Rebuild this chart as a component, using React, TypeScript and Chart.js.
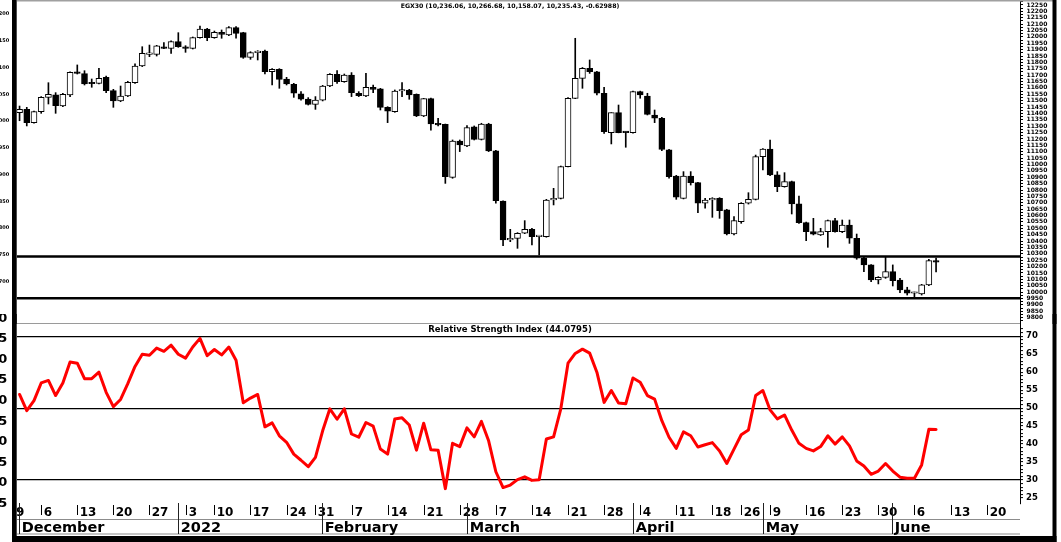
import React, { useEffect, useRef } from 'react';
import { Chart, registerables } from 'chart.js';

Chart.register(...registerables);

// ---------- data (one entry per trading day, index 0 = 1 Dec 2021) ----------
const opens = [11406,11432,11328,11414,11526,11545,11458,11545,11722,11712,
11636,11636,11683,11579,11498,11537,11641,11772,11863,11863,
11923,11910,11963,11923,11910,11994,12062,11994,12036,12015,
12072,12033,11840,11876,11889,11727,11746,11670,11628,11553,
11513,11471,11505,11615,11707,11649,11701,11558,11537,11605,
11592,11448,11414,11576,11584,11550,11380,11516,11317,11315,
10899,11184,11145,11296,11197,11317,11108,10714,10408,10421,
10461,10492,10435,10435,10722,10735,10983,11518,11675,11754,
11727,11558,11250,11406,11252,11250,11571,11537,11388,11362,
11114,10910,10735,10910,10858,10696,10722,10735,10644,10455,
10552,10696,10727,11061,11121,10918,10826,10866,10691,10544,
10474,10448,10474,10560,10474,10526,10422,10265,10213,10095,
10116,10160,10095,10017,9991,9985,10056,10236.06];

const highs = [11458,11448,11419,11532,11641,11563,11558,11727,11780,11735,
11670,11754,11693,11589,11615,11652,11788,11923,11936,11934,
11955,11970,12033,11931,11999,12085,12067,12046,12054,12080,
12080,12036,11884,11892,11897,11751,11751,11683,11636,11571,
11524,11532,11620,11712,11735,11709,11720,11571,11714,11623,
11597,11453,11584,11641,11589,11553,11518,11521,11362,11317,
11192,11192,11304,11302,11323,11323,11110,10716,10492,10466,
10560,10500,10440,10727,10813,10988,11525,11989,11760,11819,
11730,11605,11406,11466,11255,11575,11575,11558,11427,11370,
11119,10915,10944,10944,10860,10735,10740,10740,10649,10591,
10701,10779,11074,11125,11192,10944,10936,10870,10753,10549,
10578,10500,10565,10578,10565,10565,10455,10278,10215,10121,
10273,10213,10108,10038,10000,10061,10257,10266.68];

const lows = [11343,11302,11323,11401,11474,11401,11453,11532,11709,11623,
11605,11631,11563,11448,11492,11532,11636,11767,11845,11850,
11908,11871,11918,11879,11905,11989,11970,11989,11989,12010,
11989,11832,11824,11819,11709,11623,11597,11623,11526,11505,
11466,11432,11498,11610,11636,11644,11532,11532,11532,11563,
11427,11328,11409,11532,11511,11375,11375,11268,11302,10852,
10892,11101,11140,11192,11192,11101,10696,10364,10395,10343,
10458,10369,10291,10430,10683,10730,10980,11516,11597,11714,
11545,11244,11161,11248,11135,11245,11519,11388,11328,11108,
10892,10727,10730,10839,10623,10657,10586,10578,10448,10448,
10539,10690,10722,10957,10912,10787,10822,10612,10539,10403,
10448,10443,10351,10469,10466,10382,10257,10160,10082,10064,
10108,10048,9996,9977,9959,9977,10051,10158.07];

const closes = [11432,11328,11414,11526,11550,11461,11550,11722,11714,11631,
11633,11675,11579,11498,11537,11644,11772,11871,11868,11929,
11910,11963,11923,11910,11994,12062,11994,12036,12020,12072,
12028,11840,11876,11889,11727,11746,11667,11631,11558,11511,
11471,11505,11615,11707,11649,11701,11563,11539,11605,11589,
11448,11418,11576,11584,11545,11380,11516,11317,11310,10905,
11184,11153,11289,11197,11317,11106,10717,10408,10421,10461,
10492,10435,10437,10722,10735,10983,11518,11675,11754,11727,
11558,11257,11406,11250,11250,11571,11545,11393,11362,11119,
10905,10743,10910,10858,10696,10722,10735,10638,10455,10560,
10696,10727,11061,11121,10918,10826,10866,10691,10544,10474,
10453,10474,10560,10474,10526,10422,10265,10213,10095,10116,
10160,10090,10017,9991,9996,10056,10247,10235.43];

const rsiValues = [53.8,49.3,52.1,57.0,57.7,53.5,57.0,62.8,62.5,58.2,
58.2,60.0,54.4,50.4,52.4,56.8,61.6,65.0,64.7,66.7,
65.8,67.5,65.0,63.9,67.0,69.4,64.6,66.3,64.8,67.0,
63.3,51.5,52.8,53.8,44.8,45.9,42.3,40.5,37.2,35.5,
33.7,36.3,43.7,49.8,46.9,49.8,42.8,41.9,46.0,45.0,
38.6,37.2,47.0,47.3,45.3,38.3,45.8,38.4,38.3,27.6,
40.2,39.3,44.5,42.0,46.3,40.9,32.3,27.9,28.6,30.1,
30.9,29.9,30.1,41.4,42.0,49.8,62.5,65.2,66.4,65.3,
60.0,51.6,54.9,51.4,51.2,58.4,57.2,53.5,52.5,46.5,
41.9,38.8,43.4,42.3,39.2,39.8,40.4,38.1,34.6,38.6,
42.6,43.9,53.5,54.9,49.5,47.0,48.1,43.9,40.2,38.8,
38.1,39.3,42.3,40.0,42.0,39.5,35.3,33.9,31.6,32.5,
34.6,32.5,30.8,30.5,30.5,34.2,44.1,44.0795];

const priceChange = '-0.62988';
const supportLevels = [10278, 9952];
const rsiLevels = [30, 50, 70];

const dayTickIdx = [-2,3,8,13,18,23,27,32,37,41,46,51,56,61,66,71,76,81,86,91,96,100,104,109,114,119,124,129,134];
const dayTickLabels = ['29','6','13','20','27','3','10','17','24','31','7','14','21','28','7','14','21','28','4','11','18','26','9','16','23','30','6','13','20'];
const monthStartIdx = [0,22,42,62,85,103,121];
const monthLabels = ['December','2022','February','March','April','May','June'];

const priceTicks: number[] = [];
for (let v = 9775; v <= 12275; v += 25) priceTicks.push(v);
const leftPriceTicks = [10700,10750,10800,10850,10900,10950,11000,11050,11100,11150,11200];
const rsiTicks: number[] = [];
for (let v = 25; v <= 72; v += 1) rsiTicks.push(v);
const rsiLeftTicks = [35,40,45,50,55,60,65,70,75,80];

// ---------- layout ----------
const W = 1061;
const TOP_H = 324;
const BOT_TOP = 314;
const BOT_H = 542 - BOT_TOP;
const X_MIN = -0.3534;
const X_MAX = 138.63;
const FAM = "'DejaVu Sans', sans-serif";
const CFONT = '"DejaVu Sans"';

const fmt = (v: number) => v.toLocaleString('en-US', { minimumFractionDigits: 2, maximumFractionDigits: 2 });
const last = opens.length - 1;
const priceTitle = `EGX30 (${fmt(opens[last])}, ${fmt(highs[last])}, ${fmt(lows[last])}, ${fmt(closes[last])}, ${priceChange})`;
const rsiTitle = `Relative Strength Index (${rsiValues[last].toFixed(4)})`;

const noPad = (s: any) => {
  s.paddingTop = 0;
  s.paddingBottom = 0;
  s.paddingLeft = 0;
  s.paddingRight = 0;
};

function makeTopConfig(): any {
  const bodies = opens.map((o, i) => ({ x: i, y: [o, closes[i]] }));
  const wicks = opens.map((_, i) => ({ x: i, y: [lows[i], highs[i]] }));
  const levelSets = supportLevels.map((lv) => ({
    type: 'line',
    data: [{ x: X_MIN - 2, y: lv }, { x: X_MAX + 2, y: lv }],
    xAxisID: 'x', yAxisID: 'y',
    borderColor: '#000', borderWidth: 2.5, pointRadius: 0, tension: 0,
  }));
  const framePlugin = {
    id: 'frameTop',
    afterDraw(chart: any) {
      const { ctx } = chart;
      ctx.save();
      ctx.fillStyle = '#a0a0a0';
      ctx.fillRect(17, 0, 1036, 1.5);
      ctx.fillStyle = '#9a9a9a';
      ctx.fillRect(17, 323, 1003, 1);
      ctx.fillStyle = '#000';
      ctx.fillRect(12, 0, 4.7, TOP_H);
      ctx.fillRect(1052.5, 0, 4, TOP_H);
      ctx.font = `bold 6.2px ${CFONT}`;
      ctx.textAlign = 'center';
      ctx.textBaseline = 'middle';
      ctx.fillText(priceTitle, 510, 6);
      ctx.restore();
    },
  };
  return {
    type: 'bar',
    data: {
      datasets: [
        {
          type: 'bar', data: bodies, xAxisID: 'x', yAxisID: 'y',
          barThickness: 6, grouped: false, borderSkipped: false, minBarLength: 1.5,
          backgroundColor: (c: any) => (closes[c.dataIndex] >= opens[c.dataIndex] ? '#ffffff' : '#000000'),
          borderColor: '#000', borderWidth: 1,
        },
        {
          type: 'bar', data: wicks, xAxisID: 'x', yAxisID: 'y',
          barThickness: 1, grouped: false, backgroundColor: '#000', borderWidth: 0,
        },
        ...levelSets,
      ],
    },
    options: {
      responsive: false, maintainAspectRatio: false, animation: false, devicePixelRatio: 1,
      events: [],
      layout: { padding: 0, autoPadding: false },
      plugins: { legend: { display: false }, tooltip: { enabled: false }, title: { display: false } },
      scales: {
        x: { type: 'linear', min: X_MIN, max: X_MAX, display: false, offset: false, afterFit: noPad },
        y: {
          type: 'linear', position: 'right', min: 9750, max: 12289,
          afterBuildTicks: (s: any) => { s.ticks = priceTicks.map((v) => ({ value: v })); },
          afterFit: (s: any) => { s.width = W - 1020; noPad(s); },
          ticks: {
            autoSkip: false, padding: 3.5, color: '#000',
            font: { family: FAM, size: 6, weight: 'bold' },
            callback: (v: number) => (v % 50 === 0 && v >= 9800 && v <= 12250 ? String(v) : ''),
          },
          grid: { drawOnChartArea: false, drawTicks: true, tickLength: 3, tickColor: '#000', color: '#000', tickWidth: 1 },
          border: { display: true, color: '#000', width: 1 },
        },
        yl: {
          type: 'linear', position: 'left', min: 10621, max: 11226.1, display: true,
          afterBuildTicks: (s: any) => { s.ticks = leftPriceTicks.map((v) => ({ value: v })); },
          afterFit: (s: any) => { s.width = 17; noPad(s); },
          ticks: {
            autoSkip: false, padding: 7.7, color: '#000',
            font: { family: FAM, size: 5, weight: 'bold' },
            callback: (v: number) => String(v).slice(-3),
          },
          grid: { display: false, drawTicks: false },
          border: { display: false },
        },
      },
    },
    plugins: [framePlugin],
  };
}

function makeBottomConfig(): any {
  const framePlugin = {
    id: 'frameBottom',
    afterDraw(chart: any) {
      const { ctx } = chart;
      const xs = chart.scales.x;
      const off = BOT_TOP;
      ctx.save();
      ctx.fillStyle = '#000';
      ctx.font = `bold 8.5px ${CFONT}`;
      ctx.textAlign = 'center';
      ctx.textBaseline = 'middle';
      ctx.fillText(rsiTitle, 510, 330 - off);

      ctx.save();
      ctx.beginPath();
      ctx.rect(17, 500 - off, 1003, 40);
      ctx.clip();
      ctx.strokeStyle = '#000';
      ctx.lineWidth = 1;
      ctx.font = `bold 12px ${CFONT}`;
      ctx.textAlign = 'left';
      ctx.textBaseline = 'alphabetic';
      dayTickIdx.forEach((v, k) => {
        const px = Math.round(xs.getPixelForValue(v)) + 0.5;
        ctx.beginPath();
        ctx.moveTo(px, 505 - off);
        ctx.lineTo(px, 515 - off);
        ctx.stroke();
        ctx.fillText(dayTickLabels[k], px + 2.2, 516 - off);
      });
      ctx.fillStyle = '#8c8c8c';
      ctx.fillRect(17, 519 - off, 1003, 1);
      ctx.fillRect(17, 533.5 - off, 1003, 1);
      ctx.fillStyle = '#000';
      ctx.strokeStyle = '#222';
      ctx.font = `bold 14.5px ${CFONT}`;
      monthStartIdx.forEach((v, k) => {
        const px = Math.round(xs.getPixelForValue(v) - 0.3) + 0.5;
        ctx.beginPath();
        ctx.moveTo(px, 503 - off);
        ctx.lineTo(px, 534 - off);
        ctx.stroke();
        ctx.fillText(monthLabels[k], px + 2.2, 532 - off);
      });
      ctx.restore();

      ctx.fillStyle = '#000';
      ctx.fillRect(12, 0, 4.7, BOT_H);
      ctx.fillRect(1052.5, 0, 4, BOT_H);
      ctx.fillRect(12, 536 - off, 1044.5, 6);
      ctx.restore();
    },
  };
  return {
    type: 'line',
    data: {
      datasets: [
        {
          data: rsiValues.map((v, i) => ({ x: i, y: v })),
          xAxisID: 'x', yAxisID: 'y',
          borderColor: '#ff0000', borderWidth: 3, pointRadius: 0, tension: 0,
          borderJoinStyle: 'round', borderCapStyle: 'round',
        },
      ],
    },
    options: {
      responsive: false, maintainAspectRatio: false, animation: false, devicePixelRatio: 1,
      events: [],
      layout: { padding: { left: 0, right: 0, top: 0, bottom: BOT_H - 190 }, autoPadding: false },
      plugins: { legend: { display: false }, tooltip: { enabled: false }, title: { display: false } },
      scales: {
        x: { type: 'linear', min: X_MIN, max: X_MAX, display: false, offset: false, afterFit: noPad },
        y: {
          type: 'linear', position: 'right', min: 23.33, max: 76.18,
          afterBuildTicks: (s: any) => { s.ticks = rsiTicks.map((v) => ({ value: v })); },
          afterFit: (s: any) => { s.width = W - 1020; noPad(s); },
          ticks: {
            autoSkip: false, padding: 3, color: '#000',
            font: { family: FAM, size: 8.5, weight: 'bold' },
            callback: (v: number) => (v % 5 === 0 ? String(v) : ''),
          },
          grid: {
            drawOnChartArea: true, drawTicks: true, tickLength: 3, tickColor: '#000', tickWidth: 1,
            lineWidth: 1.2,
            color: (c: any) => (c.tick && rsiLevels.includes(c.tick.value) ? '#000' : 'rgba(0,0,0,0)'),
          },
          border: { display: true, color: '#000', width: 1 },
        },
        yl: {
          type: 'linear', position: 'left', min: 34.88, max: 81.05, display: true,
          afterBuildTicks: (s: any) => { s.ticks = rsiLeftTicks.map((v) => ({ value: v })); },
          afterFit: (s: any) => { s.width = 17; noPad(s); },
          ticks: {
            autoSkip: false, padding: 9.6, color: '#000',
            font: { family: FAM, size: 13, weight: 'bold' },
            callback: (v: number) => String(v).slice(-1),
          },
          grid: { display: false, drawTicks: false },
          border: { display: false },
        },
      },
    },
    plugins: [framePlugin],
  };
}

export default function App() {
  const topRef = useRef<HTMLCanvasElement>(null);
  const botRef = useRef<HTMLCanvasElement>(null);
  useEffect(() => {
    const a = new Chart(topRef.current as HTMLCanvasElement, makeTopConfig());
    const b = new Chart(botRef.current as HTMLCanvasElement, makeBottomConfig());
    return () => {
      a.destroy();
      b.destroy();
    };
  }, []);
  return (
    <div style={{ position: 'fixed', left: 0, top: 0, width: W, height: 542, background: '#fff', overflow: 'hidden' }}>
      <canvas ref={topRef} width={W} height={TOP_H} style={{ position: 'absolute', left: 0, top: 0, width: W, height: TOP_H }} />
      <canvas ref={botRef} width={W} height={BOT_H} style={{ position: 'absolute', left: 0, top: BOT_TOP, width: W, height: BOT_H }} />
    </div>
  );
}
